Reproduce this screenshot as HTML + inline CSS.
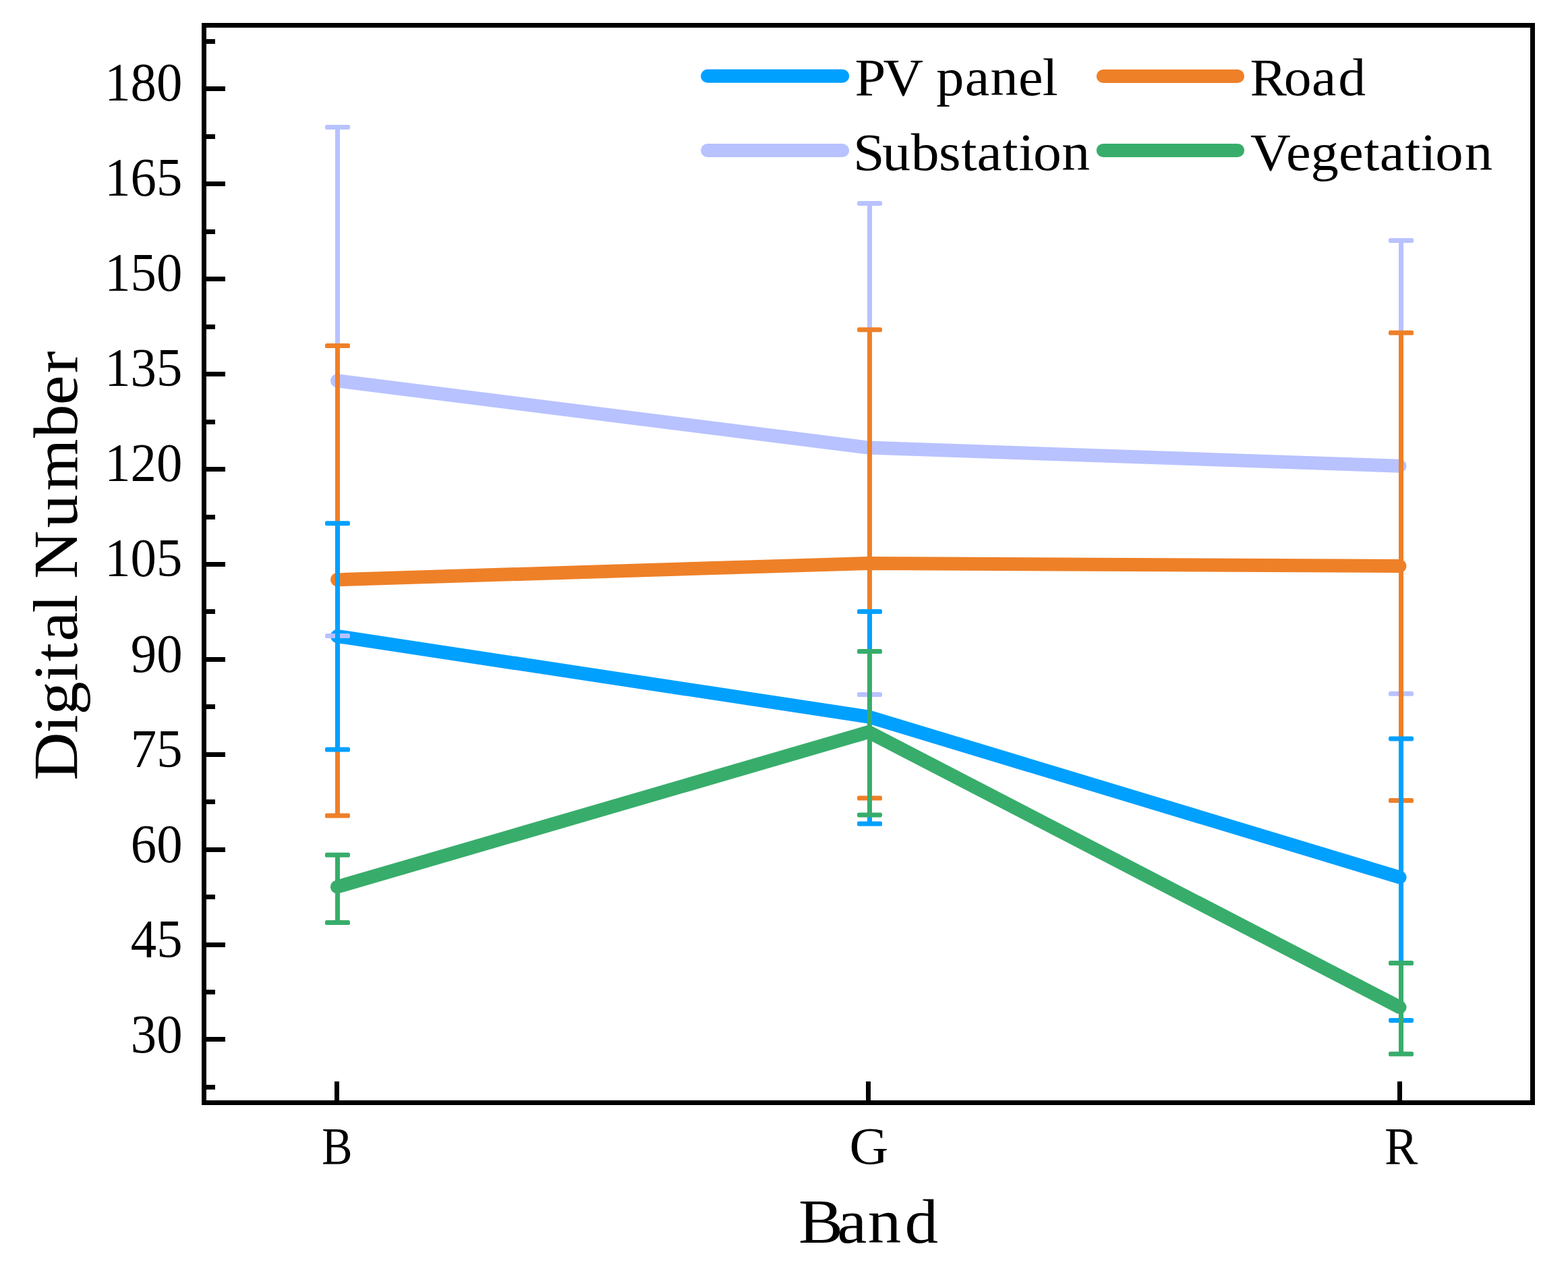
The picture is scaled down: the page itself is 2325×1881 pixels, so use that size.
<!DOCTYPE html><html><head><meta charset="utf-8"><title>Digital Number by Band</title><style>html,body{margin:0;padding:0;background:#fff;}svg{display:block;}text{font-family:"Liberation Serif","DejaVu Serif",serif;fill:#000;}</style></head><body>
<svg width="2325" height="1881" viewBox="0 0 2325 1881">
<rect x="0" y="0" width="2325" height="1881" fill="#fff"/>
<polyline points="500.0,943.0 1288.0,1062.5 2075.5,1300.5" fill="none" stroke="#00A0FF" stroke-width="20" stroke-linecap="round" stroke-linejoin="miter"/>
<polyline points="500.0,859.2 1288.0,835.0 2075.5,839.0" fill="none" stroke="#EE8028" stroke-width="20" stroke-linecap="round" stroke-linejoin="miter"/>
<polyline points="500.0,564.4 1288.0,663.6 2075.5,690.8" fill="none" stroke="#B8C2FF" stroke-width="20" stroke-linecap="round" stroke-linejoin="miter"/>
<polyline points="500.0,1314.6 1288.0,1085.0 2075.5,1493.0" fill="none" stroke="#38AD6B" stroke-width="20" stroke-linecap="round" stroke-linejoin="miter"/>
<g fill="#B8C2FF"><rect x="497.00" y="188.45" width="7" height="754.15"/><rect x="482.00" y="184.95" width="37" height="7" rx="2.6"/><rect x="482.00" y="939.10" width="37" height="7" rx="2.6"/></g>
<g fill="#B8C2FF"><rect x="1286.00" y="301.45" width="7" height="728.05"/><rect x="1271.00" y="297.95" width="37" height="7" rx="2.6"/><rect x="1271.00" y="1026.00" width="37" height="7" rx="2.6"/></g>
<g fill="#B8C2FF"><rect x="2074.00" y="356.50" width="7" height="671.80"/><rect x="2059.00" y="353.00" width="37" height="7" rx="2.6"/><rect x="2059.00" y="1024.80" width="37" height="7" rx="2.6"/></g>
<g fill="#EE8028"><rect x="497.00" y="512.50" width="7" height="696.50"/><rect x="482.00" y="509.00" width="37" height="7" rx="2.6"/><rect x="482.00" y="1205.50" width="37" height="7" rx="2.6"/></g>
<g fill="#EE8028"><rect x="1286.00" y="488.70" width="7" height="694.30"/><rect x="1271.00" y="485.20" width="37" height="7" rx="2.6"/><rect x="1271.00" y="1179.50" width="37" height="7" rx="2.6"/></g>
<g fill="#EE8028"><rect x="2074.00" y="493.30" width="7" height="693.30"/><rect x="2059.00" y="489.80" width="37" height="7" rx="2.6"/><rect x="2059.00" y="1183.10" width="37" height="7" rx="2.6"/></g>
<g fill="#00A0FF"><rect x="497.00" y="775.70" width="7" height="335.30"/><rect x="482.00" y="772.20" width="37" height="7" rx="2.6"/><rect x="482.00" y="1107.50" width="37" height="7" rx="2.6"/></g>
<g fill="#00A0FF"><rect x="1286.00" y="906.60" width="7" height="314.40"/><rect x="1271.00" y="903.10" width="37" height="7" rx="2.6"/><rect x="1271.00" y="1217.50" width="37" height="7" rx="2.6"/></g>
<g fill="#00A0FF"><rect x="2074.00" y="1094.90" width="7" height="417.50"/><rect x="2059.00" y="1091.40" width="37" height="7" rx="2.6"/><rect x="2059.00" y="1508.90" width="37" height="7" rx="2.6"/></g>
<g fill="#38AD6B"><rect x="497.00" y="1267.35" width="7" height="100.25"/><rect x="482.00" y="1263.85" width="37" height="7" rx="2.6"/><rect x="482.00" y="1364.10" width="37" height="7" rx="2.6"/></g>
<g fill="#38AD6B"><rect x="1286.00" y="965.60" width="7" height="242.30"/><rect x="1271.00" y="962.10" width="37" height="7" rx="2.6"/><rect x="1271.00" y="1204.40" width="37" height="7" rx="2.6"/></g>
<g fill="#38AD6B"><rect x="2074.00" y="1427.50" width="7" height="134.80"/><rect x="2059.00" y="1424.00" width="37" height="7" rx="2.6"/><rect x="2059.00" y="1558.80" width="37" height="7" rx="2.6"/></g>
<g fill="#000">
<rect x="299" y="34" width="1977" height="7"/>
<rect x="299" y="1631" width="1977" height="7"/>
<rect x="299" y="34" width="7" height="1604"/>
<rect x="2269" y="34" width="7" height="1604"/>
<rect x="306" y="1608" width="13" height="7"/>
<rect x="306" y="1537" width="28" height="7"/>
<rect x="306" y="1467" width="13" height="7"/>
<rect x="306" y="1397" width="28" height="7"/>
<rect x="306" y="1326" width="13" height="7"/>
<rect x="306" y="1256" width="28" height="7"/>
<rect x="306" y="1185" width="13" height="7"/>
<rect x="306" y="1115" width="28" height="7"/>
<rect x="306" y="1044" width="13" height="7"/>
<rect x="306" y="974" width="28" height="7"/>
<rect x="306" y="903" width="13" height="7"/>
<rect x="306" y="833" width="28" height="7"/>
<rect x="306" y="763" width="13" height="7"/>
<rect x="306" y="692" width="28" height="7"/>
<rect x="306" y="622" width="13" height="7"/>
<rect x="306" y="551" width="28" height="7"/>
<rect x="306" y="481" width="13" height="7"/>
<rect x="306" y="410" width="28" height="7"/>
<rect x="306" y="340" width="13" height="7"/>
<rect x="306" y="269" width="28" height="7"/>
<rect x="306" y="199" width="13" height="7"/>
<rect x="306" y="128" width="28" height="7"/>
<rect x="306" y="58" width="13" height="7"/>
<rect x="496.00" y="1603" width="7" height="28"/>
<rect x="1284.00" y="1603" width="7" height="28"/>
<rect x="2072.00" y="1603" width="7" height="28"/>
</g>
<line x1="1049.1" y1="112.8" x2="1249.2" y2="112.8" stroke="#00A0FF" stroke-width="20" stroke-linecap="round"/>
<line x1="1635.8" y1="113.0" x2="1835.1" y2="113.0" stroke="#EE8028" stroke-width="20" stroke-linecap="round"/>
<line x1="1049.1" y1="223.0" x2="1249.2" y2="223.0" stroke="#B8C2FF" stroke-width="20" stroke-linecap="round"/>
<line x1="1635.8" y1="222.9" x2="1835.1" y2="222.9" stroke="#38AD6B" stroke-width="20" stroke-linecap="round"/>
<text transform="translate(155.24,148.90) scale(0.9651,1)" font-size="79.50">180</text>
<text transform="translate(155.24,290.00) scale(0.9651,1)" font-size="79.50">165</text>
<text transform="translate(155.24,431.10) scale(0.9651,1)" font-size="79.50">150</text>
<text transform="translate(155.24,572.20) scale(0.9651,1)" font-size="79.50">135</text>
<text transform="translate(155.24,713.30) scale(0.9651,1)" font-size="79.50">120</text>
<text transform="translate(155.24,854.40) scale(0.9651,1)" font-size="79.50">105</text>
<text transform="translate(193.85,995.50) scale(0.9651,1)" font-size="79.50">90</text>
<text transform="translate(193.85,1136.60) scale(0.9651,1)" font-size="79.50">75</text>
<text transform="translate(193.85,1277.70) scale(0.9651,1)" font-size="79.50">60</text>
<text transform="translate(193.85,1418.80) scale(0.9651,1)" font-size="79.50">45</text>
<text transform="translate(193.85,1559.91) scale(0.9651,1)" font-size="79.50">30</text>
<text transform="translate(477.20,1724.80) scale(0.8728,1)" font-size="77.80">B</text>
<text transform="translate(1259.62,1725.00) scale(1.0275,1)" font-size="77.80">G</text>
<text transform="translate(2052.90,1725.10) scale(0.9480,1)" font-size="77.80">R</text>
<text transform="translate(0,141.00) scale(1.0534,1)" x="1203.20 1243.19 1299.66 1317.89 1358.17 1394.01 1433.36 1467.37" y="0" font-size="78.20">PV panel</text>
<text transform="translate(0,140.90) scale(1.0438,1)" x="1775.82 1823.77 1863.45 1900.98" y="0" font-size="78.20">Road</text>
<text transform="translate(0,251.80) scale(1.0712,1)" x="1181.00 1221.21 1260.87 1299.47 1330.46 1352.22 1387.41 1409.80 1430.17 1469.73" y="0" font-size="78.20">Substation</text>
<text transform="translate(0,252.00) scale(1.0580,1)" x="1752.41 1802.40 1836.96 1876.17 1911.56 1933.68 1969.12 1991.13 2011.67 2052.81" y="0" font-size="78.20">Vegetation</text>
<text transform="translate(0,1841.70) scale(1.0545,1)" x="1122.83 1177.06 1220.25 1272.28" y="0" font-size="94.00">Band</text>
<text transform="translate(113.9,1154.0) rotate(-90) scale(1.0519,1)" x="-2.71 63.85 89.93 137.10 165.05 193.26 233.30 259.41 281.49 353.13 405.37 480.13 526.40 571.18" y="0" font-size="94.00">Digital Number</text>
</svg></body></html>
